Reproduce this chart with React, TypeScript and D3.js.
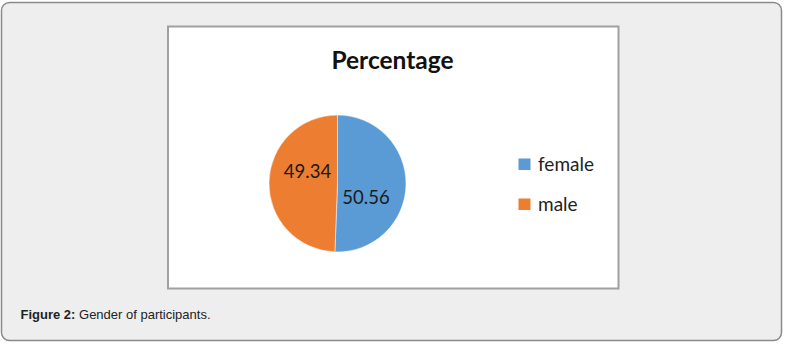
import React from "react";
import * as d3 from "d3";

const categories = ["female", "male"];
const values = [50.56, 49.34];
const labels = ["50.56", "49.34"];
const colors = ["#5B9BD5", "#ED7D31"];
const title = "Percentage";
const captionBold = "Figure 2:";
const captionText = " Gender of participants.";

const W = 786;
const H = 345;

export default function App() {
  const cx = 337.5;
  const cy = 183.5;
  const r = 68.5;
  const pie = d3.pie<number>().sort(null).value((d) => d)(values);
  const arc = d3.arc<d3.PieArcDatum<number>>().innerRadius(0).outerRadius(r);
  const labelOffsets = [
    { dx: 28.5, dy: 20.5 },
    { dx: -30, dy: -6 },
  ];
  const font = "Lato, 'Open Sans', sans-serif";
  return (
    <svg
      width={W}
      height={H}
      style={{ position: "absolute", left: 0, top: 0 }}
      viewBox={`0 0 ${W} ${H}`}
    >
      <rect x={0} y={0} width={W} height={H} fill="#ffffff" />
      <rect x={1.5} y={2.5} width={780} height={338} rx={8} fill="#eeeeee" stroke="#8a8a8a" strokeWidth={1.5} />
      <rect x={168} y={26.5} width={450.5} height={262} fill="#ffffff" stroke="#a0a0a0" strokeWidth={2} />
      <text x={392.5} y={68.5} textAnchor="middle" fontFamily={font} fontWeight="bold" fontSize={24.5} fill="#111">
        {title}
      </text>
      <g transform={`translate(${cx},${cy})`}>
        {pie.map((p, i) => (
          <path key={categories[i]} d={arc(p) || ""} fill={colors[i]} stroke="#ffffff" strokeWidth={0.5} />
        ))}
        {pie.map((p, i) => (
          <text
            key={"l" + i}
            x={labelOffsets[i].dx}
            y={labelOffsets[i].dy}
            textAnchor="middle"
            fontFamily={font}
            fontSize={18.5}
            fill="#1a1a1a"
          >
            {labels[i]}
          </text>
        ))}
      </g>
      {categories.map((c, i) => (
        <g key={c} transform={`translate(518.5,${158.5 + i * 40})`}>
          <rect x={0} y={0} width={12} height={11.5} fill={colors[i]} />
          <text x={19.5} y={12.5} fontFamily={font} fontSize={19} fill="#222">
            {c}
          </text>
        </g>
      ))}
      <text x={20.5} y={318.5} fontFamily="Arial, 'Liberation Sans', sans-serif" fontSize={13} fill="#222">
        <tspan fontWeight="bold">{captionBold}</tspan>
        <tspan>{captionText}</tspan>
      </text>
    </svg>
  );
}
